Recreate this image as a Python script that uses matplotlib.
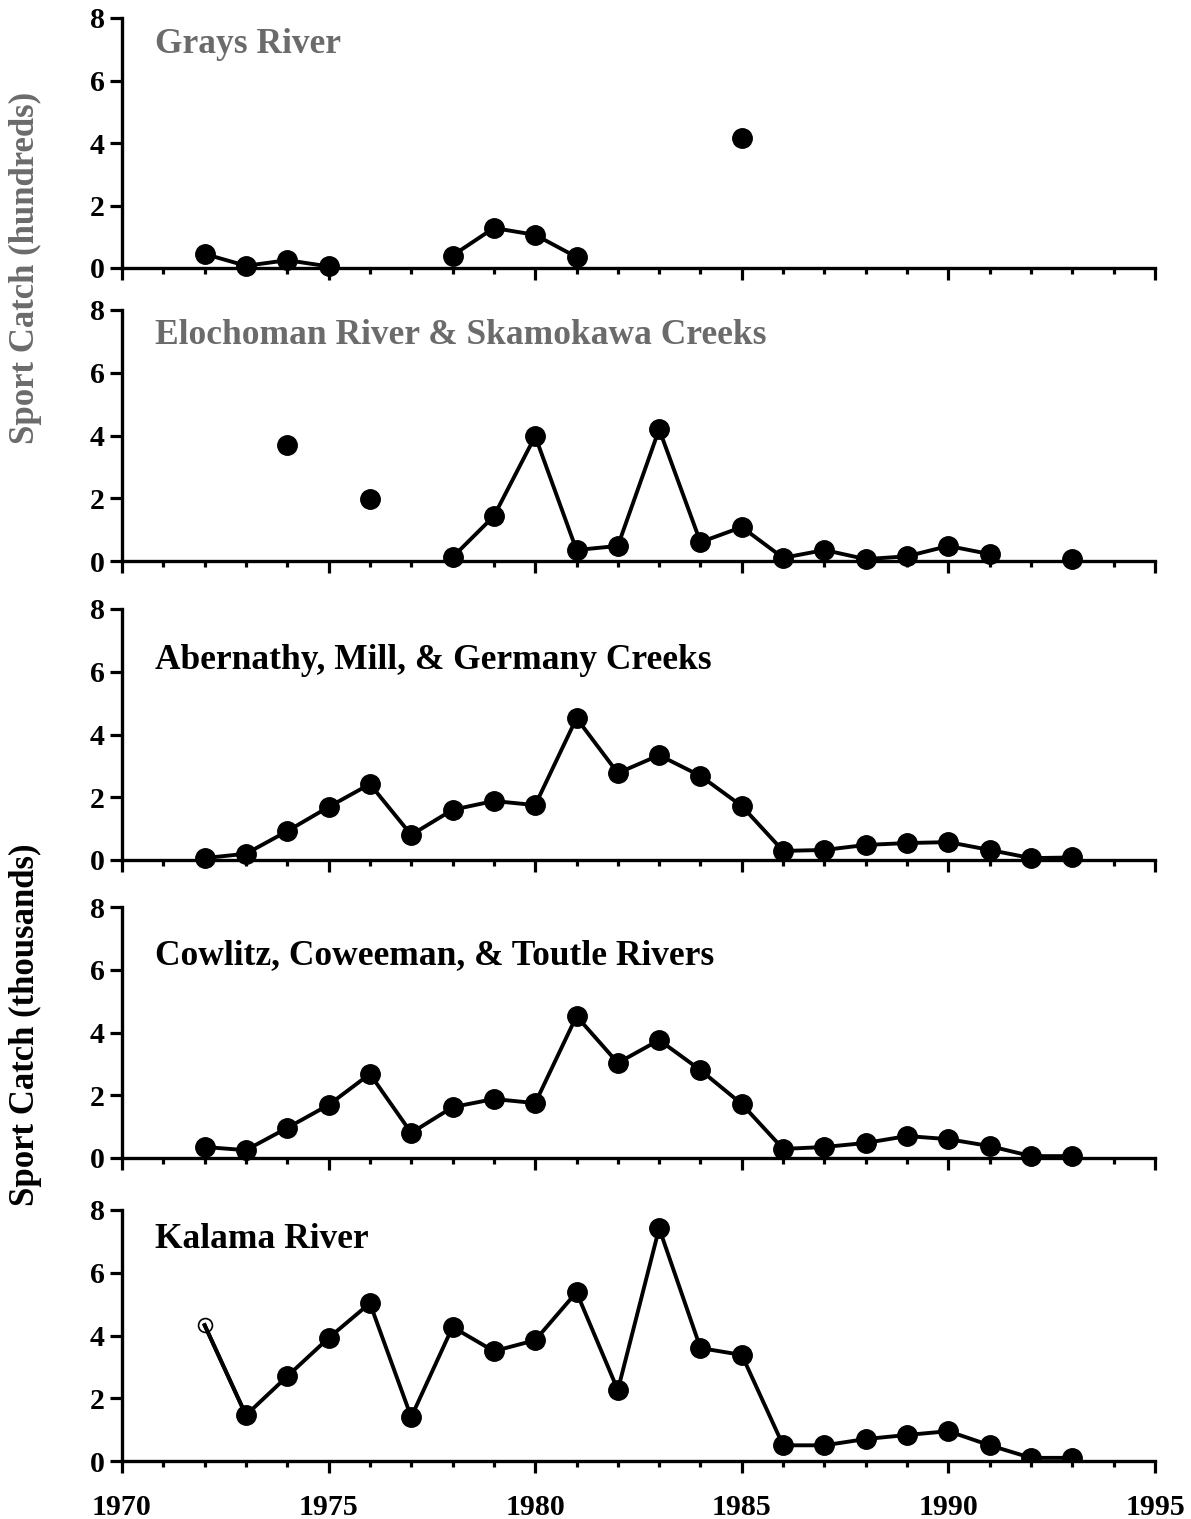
import numpy as np
import matplotlib
matplotlib.use("Agg")
import matplotlib.pyplot as plt
from matplotlib.ticker import MultipleLocator

plt.rcParams['font.family'] = ['Liberation Serif', 'DejaVu Serif']
plt.rcParams['font.weight'] = 'bold'

nan = np.nan
years = list(range(1972, 1994))

grays = [0.45, 0.07, 0.25, 0.05, nan, nan, 0.40, 1.28, 1.06, 0.35, nan, nan, nan, 4.16,
         nan, nan, nan, nan, nan, nan, nan, nan]
elochoman = [nan, nan, 3.70, nan, 1.97, nan, 0.12, 1.43, 3.98, 0.35, 0.48, 4.20, 0.60, 1.08,
             0.10, 0.35, 0.06, 0.15, 0.48, 0.22, nan, 0.06]
abernathy = [0.06, 0.20, 0.92, 1.69, 2.42, 0.80, 1.60, 1.88, 1.75, 4.52, 2.77, 3.34, 2.68, 1.72,
             0.29, 0.32, 0.48, 0.54, 0.57, 0.32, 0.06, 0.08]
cowlitz = [0.35, 0.25, 0.96, 1.69, 2.68, 0.80, 1.62, 1.88, 1.75, 4.52, 3.03, 3.76, 2.80, 1.72,
           0.29, 0.35, 0.48, 0.70, 0.60, 0.38, 0.06, 0.06]
kalama = [4.33, 1.46, 2.70, 3.92, 5.03, 1.40, 4.27, 3.50, 3.85, 5.38, 2.26, 7.42, 3.60, 3.38,
          0.50, 0.50, 0.70, 0.83, 0.95, 0.50, 0.10, 0.10]

titles = ["Grays River", "Elochoman River & Skamokawa Creeks",
          "Abernathy, Mill, & Germany Creeks", "Cowlitz, Coweeman, & Toutle Rivers",
          "Kalama River"]
title_colors = ["#6b6b6b", "#6b6b6b", "black", "black", "black"]
title_y = [7.15, 7.2, 6.35, 6.45, 7.05]
series = [grays, elochoman, abernathy, cowlitz, kalama]
xticks = [1970, 1975, 1980, 1985, 1990, 1995]
yticks = [0, 2, 4, 6, 8]

W, H = 1191, 1519
fig = plt.figure(figsize=(W / 100, H / 100), dpi=100)

# panel pixel extents (top, bottom)
panels = [(18, 268), (310, 561), (609, 860), (907, 1158), (1210, 1461)]
left_px, right_px = 122, 1155

for i, ((top, bot), vals) in enumerate(zip(panels, series)):
    ax = fig.add_axes([left_px / W, 1 - bot / H, (right_px - left_px) / W, (bot - top) / H])
    ax.set_xlim(1970, 1995)
    ax.set_ylim(0, 8)
    for s in ['top', 'right']:
        ax.spines[s].set_visible(False)
    for s in ['left', 'bottom']:
        ax.spines[s].set_linewidth(2.4)
    ax.set_xticks(xticks)
    ax.xaxis.set_minor_locator(MultipleLocator(1))
    ax.set_yticks(yticks)
    ax.tick_params(axis='both', which='major', direction='out', length=8.5, width=2.3,
                   labelsize=21.5)
    ax.tick_params(axis='x', which='minor', direction='out', length=4.5, width=2.3)
    ax.tick_params(axis='y', pad=4)
    ax.tick_params(axis='x', pad=15)
    if i < 4:
        ax.tick_params(axis='x', labelbottom=False)
    y = np.array(vals, dtype=float)
    if i == 4:
        ax.plot(years, y, color='black', lw=2.8, zorder=2)
        ax.plot(years[1:], y[1:], 'o', color='black', ms=14, zorder=3)
        ax.plot(years[:1], y[:1], 'o', mfc='white', mec='black', mew=1.2, ms=10, zorder=1)
        ax.plot(years[:2], y[:2], color='black', lw=2.8, zorder=2)
    else:
        ax.plot(years, y, '-o', color='black', lw=2.8, ms=14, clip_on=False)
    ax.text(1970.8, title_y[i], titles[i], color=title_colors[i], fontsize=25.5,
            fontweight='bold', va='center', ha='left')
    for lbl in ax.get_xticklabels() + ax.get_yticklabels():
        lbl.set_fontweight('bold')

fig.text(25 / W, 1 - 268 / H, "Sport Catch (hundreds)", rotation=90, color="#6b6b6b",
         fontsize=25, fontweight='bold', va='center', ha='center')
fig.text(25 / W, 1 - 1025 / H, "Sport Catch (thousands)", rotation=90, color="black",
         fontsize=25, fontweight='bold', va='center', ha='center')

fig.savefig("out.png", dpi=100)
